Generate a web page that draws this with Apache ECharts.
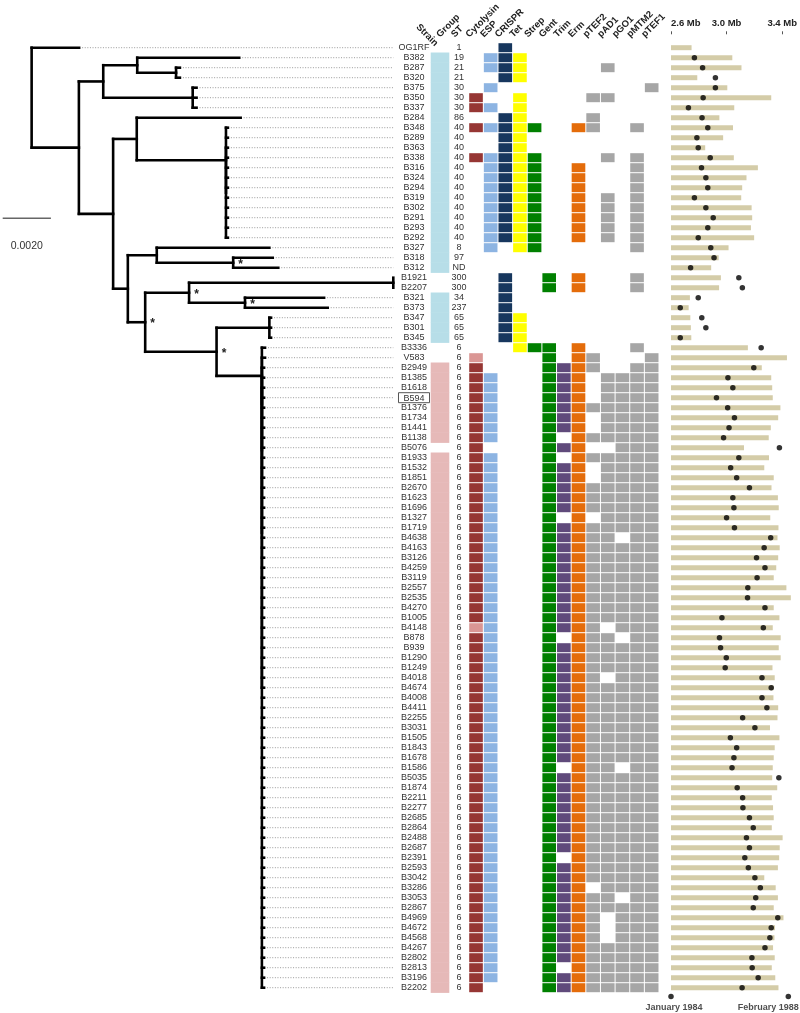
<!DOCTYPE html>
<html><head><meta charset="utf-8">
<script src="https://cdn.jsdelivr.net/npm/echarts@6/dist/echarts.min.js"></script>
<style>html,body{margin:0;padding:0;background:#fff}#c{width:800px;height:1013px}</style>
</head><body><div id="c"></div>
<script>
// ---------------- DATA ----------------
const strains = [
 'OG1RF','B382','B287','B320','B375','B350','B337','B284','B348','B289',
 'B363','B338','B316','B324','B294','B319','B302','B291','B293','B292',
 'B327','B318','B312','B1921','B2207','B321','B373','B347','B301','B345',
 'B3336','V583','B2949','B1385','B1618','B594','B1376','B1734','B1441','B1138',
 'B5076','B1933','B1532','B1851','B2670','B1623','B1696','B1327','B1719','B4638',
 'B4163','B3126','B4259','B3119','B2557','B2535','B4270','B1005','B4148','B878',
 'B939','B1290','B1249','B4018','B4674','B4008','B4411','B2255','B3031','B1505',
 'B1843','B1678','B1586','B5035','B1874','B2211','B2277','B2685','B2864','B2488',
 'B2687','B2391','B2593','B3042','B3286','B3053','B2867','B4969','B4672','B4568',
 'B4267','B2802','B2813','B3196','B2202'];
const boxedStrains = ['B594'];
// group: 0 none, 1 blue group, 2 pink group
const groupCode = ('0111111111 1111111111 1110011111 0022222222 0222222222 ' +
  '2222222222 2222222222 2222222222 2222222222 22222').replace(/ /g, '').split('').map(Number);
const stValues = [
 '1','19','21','21','30','30','30','86','40','40',
 '40','40','40','40','40','40','40','40','40','40',
 '8','97','ND','300','300','34','237','65','65','65',
 '6','6','6','6','6','6','6','6','6','6',
 '6','6','6','6','6','6','6','6','6','6',
 '6','6','6','6','6','6','6','6','6','6',
 '6','6','6','6','6','6','6','6','6','6',
 '6','6','6','6','6','6','6','6','6','6',
 '6','6','6','6','6','6','6','6','6','6',
 '6','6','6','6','6'];
const geneColumns = ['Cytolysin','ESP','CRISPR','Tet','Strep','Gent','Trim','Erm','pTEF2','pAD1','pGO1','pMTM2','pTEF1'];
// one string per strain, one char per gene column: 0 absent, 1 present, 2 partial (light)
const geneProfile = [
 '0010000000000','0111000000000','0111000001000','0011000000000','0100000000001',
 '1001000011000','1101000000000','0011000010000','1111100110010','0011000000000',
 '0011000000000','1111100001010','0111100100010','0111100100010','0111100100010',
 '0111100101010','0111100101010','0111100101010','0111100101010','0111100101010',
 '0101100000010','0000000000000','0000000000000','0010010100010','0010010100010',
 '0010000000000','0010000000000','0011000000000','0011000000000','0011000000000',
 '0001110100010','2000010110001','1000011110011','1100011101111','1100011101111',
 '1100011101111','1100011111111','1100011101111','1100011101111','1100010111111',
 '1000011100111','1100010111111','1100011101111','1100011101111','1100011111111',
 '1100011111111','1100011111111','1100010101111','1100011111111','1100011111011',
 '1100011111111','1100011111111','1100011111111','1100011111111','1100011111111',
 '1100011111111','1100011111111','1100011111111','2100011110111','1100010111011',
 '1100011111111','1100011111111','1100011111111','1100011110111','1100011111111',
 '1100011111111','1100011111111','1100011111111','1100011111111','1100011111111',
 '1100011111111','1100011111111','1100010111011','1100011111111','1100011111111',
 '1100011111111','1100011111111','1100011111111','1100011111111','1100011111111',
 '1100011111111','1100010111111','1100011111111','1100011111111','1100011101111',
 '1100011111011','1100011111111','1100011110111','1100011110111','1100011110111',
 '1100011111111','1100011111111','1100010111111','1100011111111','1000011111111'];
const genomeSizeMb = [
 2.748,3.041,3.107,2.789,3.005,3.321,3.055,2.948,3.046,2.975,
 2.846,3.052,3.225,3.143,3.112,3.105,3.180,3.184,3.175,3.198,
 3.014,2.943,2.889,2.959,2.946,2.736,2.727,2.739,2.743,2.746,
 3.153,3.434,3.253,3.321,3.328,3.332,3.387,3.371,3.318,3.303,
 3.125,3.305,3.271,3.339,3.323,3.369,3.375,3.314,3.373,3.366,
 3.382,3.371,3.357,3.339,3.430,3.462,3.339,3.380,3.332,3.389,
 3.375,3.389,3.330,3.346,3.337,3.337,3.371,3.366,3.312,3.380,
 3.346,3.339,3.332,3.328,3.364,3.325,3.334,3.339,3.325,3.403,
 3.382,3.378,3.369,3.271,3.353,3.369,3.339,3.409,3.348,3.344,
 3.334,3.346,3.325,3.350,3.373];
// isolation date, decimal years
const isolationYear = [
 null,1984.86,1985.16,1985.63,1985.63,1985.18,1984.64,1985.14,1985.35,1984.95,
 1985.00,1985.44,1985.12,1985.28,1985.35,1984.86,1985.28,1985.55,1985.35,1985.00,
 1985.46,1985.58,1984.72,1986.49,1986.62,1985.00,1984.34,1985.13,1985.28,1984.34,
 1987.31,null,1987.04,1986.09,1986.27,1985.67,1986.08,1986.33,1986.13,1985.93,
 1987.98,1986.49,1986.19,1986.41,1986.88,1986.27,1986.31,1986.04,1986.33,1987.66,
 1987.42,1987.14,1987.45,1987.16,1986.82,1986.81,1987.45,1985.87,1987.39,1985.78,
 1985.82,1986.03,1985.99,1987.34,1987.68,1987.34,1987.52,1986.63,1987.08,1986.18,
 1986.41,1986.31,1986.24,1987.96,1986.43,1986.63,1986.64,1986.88,1987.02,1986.77,
 1986.88,1986.71,1986.84,1987.08,1987.28,1987.11,1987.02,1987.92,1987.68,1987.63,
 1987.45,1986.97,1986.98,1987.20,1986.61];
const dateAxisEnds = [1984.0, 1988.0833];
const dateAxisLabels = ['January 1984', 'February 1988'];
const sizeAxisRange = [2.6, 3.4];
const scaleBarLength = 0.002;
const scaleBarLabel = '0.0020';

// phylogeny: node(depth, children, supported) / leaf(name, depth); depth in substitutions/site
const node = (depth, children, support) => ({depth, children, support: !!support});
const leaf = (name, depth) => ({name, depth});
const tree = node(0, [
  leaf('OG1RF', 0.00197),
  node(0.00196, [
    node(0.00297, [
      node(0.00438, [
        leaf('B382', 0.00861),
        node(0.00599, [leaf('B287', 0.00615), leaf('B320', 0.00615)])
      ]),
      node(0.00668, [leaf('B375', 0.00684), leaf('B350', 0.00684), leaf('B337', 0.00684)])
    ]),
    node(0.00338, [
      node(0.00436, [
        leaf('B284', 0.00867),
        node(0.00806, [leaf('B348', 0.00814), leaf('B289', 0.00814),
          node(0.00806, ['B363','B338','B316','B324','B294','B319','B302','B291','B293','B292'].map(n => leaf(n, 0.00814)))])
      ]),
      node(0.00399, [
        node(0.00519, [
          leaf('B327', 0.00986),
          node(0.00836, [leaf('B318', 0.01000), leaf('B312', 0.01023)], true)
        ]),
        node(0.00471, [
          node(0.00653, [
            node(0.01500, [leaf('B1921', 0.01500), leaf('B2207', 0.01500)]),
            node(0.00885, [leaf('B321', 0.01213), leaf('B373', 0.01228)], true)
          ], true),
          node(0.00767, [
            node(0.00986, [leaf('B347', 0.00993), leaf('B301', 0.00993), leaf('B345', 0.00993)]),
            node(0.00955, [leaf('B3336', 0.00968),
              node(0.00955, [leaf('V583', 0.00968),
                node(0.00955, [leaf('B2949', 0.00964),
                  node(0.00955, [leaf('B1385', 0.00964),
                    node(0.00955, strains.slice(strains.indexOf('B1618')).map(n => leaf(n, 0.00964)))])])])])
          ], true)
        ], true)
      ])
    ])
  ])
]);

// ---------------- STYLE ----------------
const FONT = 'Liberation Sans, Arial, sans-serif';
const geneColor = ['#963634','#8db4e2','#17375e','#ffff00','#008000','#008000','#604a7b','#e46c0a',
                   '#a6a6a6','#a6a6a6','#a6a6a6','#a6a6a6','#a6a6a6'];
const geneColorLight = {0: '#da9694'};
const groupColor = {1: '#b7dee8', 2: '#e6b9b8'};
const TREE_MAX = 0.015;

// ---------------- TREE LAYOUT (structure -> segments) ----------------
function layout(n) {
  if (!n.children) { n.y = strains.indexOf(n.name); return; }
  n.children.forEach(layout);
  n.y = (n.children[0].y + n.children[n.children.length - 1].y) / 2;
}
layout(tree);
const branchSegs = [], leaderSegs = [], supportNodes = [];
function collect(n) {
  if (!n.children) { if (n.depth < TREE_MAX) leaderSegs.push([n.depth, n.y]); return; }
  const ys = n.children.map(c => c.y);
  branchSegs.push([n.depth, Math.min(...ys), n.depth, Math.max(...ys)]);
  n.children.forEach(c => { branchSegs.push([n.depth, c.y, c.depth, c.y]); collect(c); });
  if (n.support) supportNodes.push([n.depth, n.y]);
}
collect(tree);

const heatData = [];
geneProfile.forEach((p, r) => p.split('').forEach((ch, c) => { if (ch !== '0') heatData.push([c, r, +ch]); }));
const groupData = groupCode.map((g, r) => [0, r, g]).filter(d => d[2] > 0);

// ---------------- CHART ----------------
const T = 42.7, H = 950;
const headerLabel = {interval: 0, rotate: 45, align: 'left', verticalAlign: 'bottom', margin: 13.5,
  fontSize: 9.5, fontWeight: 'bold', color: '#222', fontFamily: FONT};
const hiddenCat = (gi, data) => ({type: 'category', gridIndex: gi, data, show: false});
const rowsAxis = (gi, extra) => Object.assign({type: 'category', gridIndex: gi, data: strains, inverse: true,
  axisLine: {show: false}, axisTick: {show: false}, splitLine: {show: false}}, extra || {show: false});

const option = {
  animation: false,
  textStyle: {fontFamily: FONT},
  grid: [
    {left: 2.7, width: 390.6, top: T, height: H},       // 0 tree
    {left: 397, width: 34, top: T, height: H},          // 1 strain labels
    {left: 430.7, width: 18.6, top: T, height: H},      // 2 group
    {left: 468.7, width: 190.3, top: T, height: H},     // 3 gene heatmap
    {left: 434.4, width: 219.6, top: T, height: H},     // 4 column headers
    {left: 671, width: 117.3, top: T, height: H},       // 5 genome size / date
    {left: 671, width: 117.3, top: 996, height: 1}      // 6 date legend
  ],
  xAxis: [
    {type: 'value', gridIndex: 0, min: -0.0012, max: TREE_MAX, show: false},
    {type: 'category', gridIndex: 1, data: ['Strain'], position: 'top', axisLine: {show: false},
      axisTick: {show: false}, axisLabel: headerLabel},
    hiddenCat(2, ['Group']),
    hiddenCat(3, geneColumns),
    {type: 'category', gridIndex: 4, data: ['Group', 'ST'].concat(geneColumns), position: 'top',
      axisLine: {show: false}, axisTick: {show: false}, axisLabel: headerLabel},
    {type: 'value', gridIndex: 5, position: 'top', min: sizeAxisRange[0], max: sizeAxisRange[1], interval: 0.4,
      startValue: sizeAxisRange[0], offset: 8.4, axisLine: {show: false}, splitLine: {show: false},
      axisTick: {show: true, length: 3, lineStyle: {color: '#555', width: 1}},
      axisLabel: {margin: 6, fontSize: 9.5, fontWeight: 'bold', color: '#222', alignMinLabel: 'left',
        verticalAlign: 'bottom', formatter: v => v.toFixed(1) + ' Mb'}},
    {type: 'value', gridIndex: 5, min: dateAxisEnds[0], max: dateAxisEnds[1], show: false},
    {type: 'value', gridIndex: 6, min: dateAxisEnds[0], max: dateAxisEnds[1], show: false}
  ],
  yAxis: [
    {type: 'value', gridIndex: 0, min: -0.5, max: strains.length - 0.5, inverse: true, show: false},
    rowsAxis(1, {show: true, axisLabel: {interval: 0, inside: true, margin: 17, align: 'center', fontSize: 9,
      color: '#333', formatter: v => boxedStrains.includes(v) ? '{box|' + v + '}' : v,
      rich: {box: {borderColor: '#555', borderWidth: 1, padding: [1, 5, 0, 5], fontSize: 9, color: '#333'}}}}),
    rowsAxis(2),
    rowsAxis(3, {show: true, axisLabel: {interval: 0, margin: 9.7, align: 'center', fontSize: 9, color: '#333',
      formatter: (v, i) => stValues[i]}}),
    {type: 'value', gridIndex: 4, min: 0, max: 1, show: false},
    rowsAxis(5),
    {type: 'value', gridIndex: 6, min: 0, max: 1, show: false}
  ],
  series: [
    { // tree branches
      type: 'custom', xAxisIndex: 0, yAxisIndex: 0, data: branchSegs, silent: true,
      renderItem: (p, api) => {
        const a = api.coord([api.value(0), api.value(1)]), b = api.coord([api.value(2), api.value(3)]);
        return {type: 'line', shape: {x1: a[0], y1: a[1], x2: b[0], y2: b[1]},
          style: {stroke: '#000', lineWidth: 2.6, lineCap: 'square'}};
      }
    },
    { // dotted leaders
      type: 'custom', xAxisIndex: 0, yAxisIndex: 0, data: leaderSegs, silent: true,
      renderItem: (p, api) => {
        const a = api.coord([api.value(0), api.value(1)]), b = api.coord([TREE_MAX, api.value(1)]);
        return {type: 'line', shape: {x1: a[0] + 3, y1: a[1], x2: b[0], y2: b[1]},
          style: {stroke: '#9a9a9a', lineWidth: 1, lineDash: [1, 1.6]}};
      }
    },
    { // bootstrap support marks
      type: 'custom', xAxisIndex: 0, yAxisIndex: 0, data: supportNodes, silent: true,
      renderItem: (p, api) => {
        const a = api.coord([api.value(0), api.value(1)]);
        return {type: 'text', x: a[0] + 7.5, y: a[1] + 1.5,
          style: {text: '*', fill: '#222', font: 'bold 12px ' + FONT, align: 'center', verticalAlign: 'middle'}};
      }
    },
    { // scale bar
      type: 'custom', xAxisIndex: 0, yAxisIndex: 0, silent: true,
      data: [[-0.0012, -0.0012 + scaleBarLength, 17.06]],
      renderItem: (p, api) => {
        const a = api.coord([api.value(0), api.value(2)]), b = api.coord([api.value(1), api.value(2)]);
        return {type: 'group', children: [
          {type: 'line', shape: {x1: a[0], y1: a[1], x2: b[0], y2: b[1]}, style: {stroke: '#666', lineWidth: 1.5}},
          {type: 'text', x: (a[0] + b[0]) / 2, y: a[1] + 28,
            style: {text: scaleBarLabel, fill: '#333', font: '10.5px ' + FONT, align: 'center', verticalAlign: 'middle'}}
        ]};
      }
    },
    { // group column
      type: 'custom', xAxisIndex: 2, yAxisIndex: 2, data: groupData, silent: true,
      renderItem: (p, api) => {
        const c = api.coord([api.value(0), api.value(1)]), s = api.size([1, 1]);
        return {type: 'rect', shape: {x: c[0] - s[0] / 2, y: c[1] - s[1] / 2 - 0.2, width: s[0], height: s[1] + 0.4},
          style: {fill: groupColor[api.value(2)]}};
      }
    },
    { // gene / plasmid heatmap
      type: 'custom', xAxisIndex: 3, yAxisIndex: 3, data: heatData, silent: true,
      renderItem: (p, api) => {
        const col = api.value(0), v = api.value(2);
        const c = api.coord([col, api.value(1)]), s = api.size([1, 1]);
        const fill = v === 2 ? geneColorLight[col] : geneColor[col];
        return {type: 'rect', shape: {x: c[0] - s[0] / 2 + 0.5, y: c[1] - s[1] / 2 + 0.5, width: s[0] - 1, height: s[1] - 1},
          style: {fill}};
      }
    },
    { // genome size bars
      type: 'bar', xAxisIndex: 5, yAxisIndex: 5, data: genomeSizeMb, barWidth: 5, clip: false, silent: true,
      itemStyle: {color: '#d4cca8'}
    },
    { // isolation dates
      type: 'scatter', xAxisIndex: 6, yAxisIndex: 5, silent: true, symbolSize: 5.5,
      itemStyle: {color: '#000'},
      data: isolationYear.map((y, i) => [y, i]).filter(d => d[0] !== null)
    },
    { // date axis legend
      type: 'scatter', xAxisIndex: 7, yAxisIndex: 6, silent: true, symbolSize: 5.5, itemStyle: {color: '#000'},
      data: [
        {value: [dateAxisEnds[0], 0.5], label: {offset: [3, 0]}},
        {value: [dateAxisEnds[1], 0.5], label: {align: 'right', offset: [10.5, 0]}}
      ],
      label: {show: true, position: 'bottom', distance: 4, fontSize: 9, fontWeight: 'bold', color: '#222',
        formatter: p => dateAxisLabels[p.dataIndex]}
    }
  ]
};
echarts.init(document.getElementById('c'), null, {renderer: 'canvas'}).setOption(option);
</script></body></html>
